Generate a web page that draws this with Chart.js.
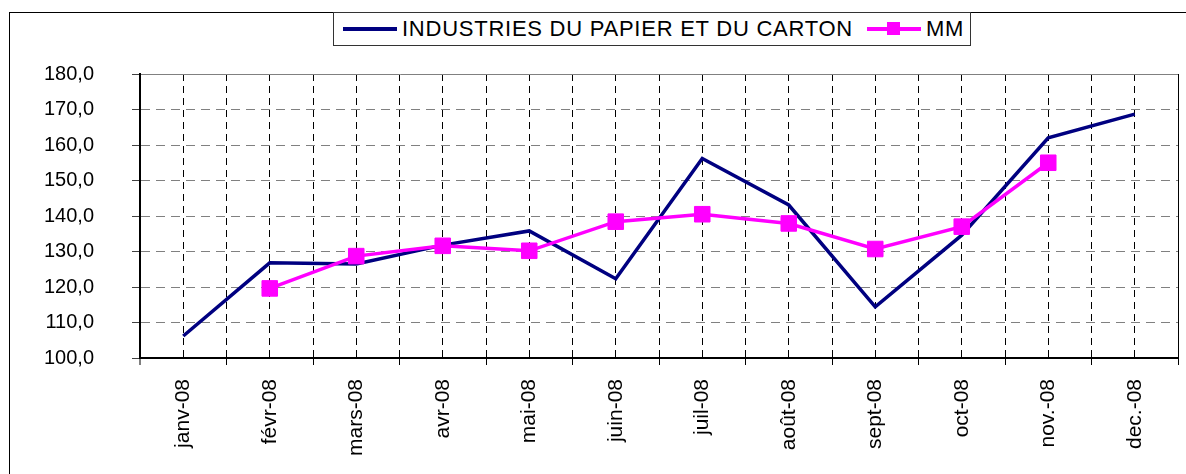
<!DOCTYPE html>
<html>
<head>
<meta charset="utf-8">
<script src="https://cdn.jsdelivr.net/npm/chart.js@4/dist/chart.umd.min.js"></script>
<style>
  html, body { margin: 0; padding: 0; background: #fff; overflow: hidden; width: 1186px; height: 474px; }
  #frame { position: absolute; left: 9px; top: 12px; width: 1300px; height: 600px; border-left: 1.5px solid #000; border-top: 1.5px solid #000; }
  #wrap { position: absolute; left: 0; top: 0; width: 1190px; height: 474px; }
  #legend { position: absolute; left: 333px; top: 12px; width: 638px; height: 34px; border: 1px solid #333; background: #fff;
            font-family: 'Liberation Sans', Arial, sans-serif; font-size: 22px; letter-spacing: 0.75px; color: #000;
            display: flex; align-items: center; box-sizing: border-box; }
  .item { display: flex; align-items: center; }
  .sample { position: relative; display: inline-block; width: 54px; height: 14px; margin-right: 5px; }
  .sample .ln { position: absolute; left: 0; right: 0; top: 5px; height: 3.5px; }
  .sample .mk { position: absolute; left: 20px; top: 0; width: 13px; height: 13px; }
</style>
</head>
<body>
<div id="frame"></div>
<div id="wrap"><canvas id="myLine" width="1190" height="474"></canvas></div>
<div id="legend"></div>
<script>
const months = ['janv-08', 'févr-08', 'mars-08', 'avr-08', 'mai-08', 'juin-08',
                'juil-08', 'août-08', 'sept-08', 'oct-08', 'nov.-08', 'dec.-08'];
const industrie = [106.2, 126.8, 126.5, 131.8, 135.8, 122.3, 156.2, 143.1, 114.4, 134.6, 162.0, 168.7];
const mm = [null, 119.6, 128.7, 131.6, 130.2, 138.4, 140.5, 137.9, 130.7, 137.0, 155.0, null];
const y_min = 100;
const y_max = 180;
const y_step = 10;

Chart.defaults.font.family = "'Liberation Sans', Arial, sans-serif";
Chart.defaults.color = '#000';

const my_line = document.getElementById('myLine');

// dashed grid lines, but solid where they sit on the plot edges
const xDash = (ctx) => (ctx.type === 'tick' && ctx.index > 0 ? [7, 5] : []);
const yDash = (ctx) => (ctx.type === 'tick' && ctx.tick && ctx.tick.value !== y_max ? [9, 6] : []);

const chart = new Chart(my_line, {
  type: 'line',
  data: {
    labels: months,
    datasets: [
      {
        label: 'INDUSTRIES DU PAPIER ET DU CARTON',
        data: industrie,
        borderColor: '#000080',
        backgroundColor: '#000080',
        borderWidth: 3.5,
        pointRadius: 0,
        tension: 0,
        order: 1
      },
      {
        label: 'MM',
        data: mm,
        borderColor: '#ff00ff',
        backgroundColor: '#ff00ff',
        borderWidth: 3.5,
        pointStyle: 'rect',
        pointRadius: 11,
        pointBorderWidth: 1,
        tension: 0,
        order: 0
      }
    ]
  },
  options: {
    responsive: false,
    animation: false,
    layout: { padding: { left: 40, top: 74, right: 0, bottom: 0 } },
    plugins: { legend: { display: false }, tooltip: { enabled: false } },
    scales: {
      x: {
        offset: true,
        grid: {
          offset: true,
          color: '#000',
          lineWidth: (ctx) => (ctx.index === 0 ? 2 : 1),
          tickLength: 7,
          tickColor: '#000',
          tickWidth: 1
        },
        border: { color: '#000', width: 2, dash: xDash },
        ticks: { font: { size: 21 }, minRotation: 90, maxRotation: 90, padding: 14, autoSkip: false },
        afterFit(scale) { scale.height = 116; }
      },
      x2: {
        type: 'category',
        position: 'bottom',
        offset: true,
        grid: { offset: false, color: '#000', lineWidth: 1, drawTicks: false },
        border: { display: false, dash: [7, 5] },
        ticks: { display: false },
        afterFit(scale) { scale.height = 0; }
      },
      y: {
        min: y_min,
        max: y_max,
        ticks: {
          stepSize: y_step,
          font: { size: 20 },
          padding: 38,
          callback: (v) => v.toFixed(1).replace('.', ',')
        },
        grid: { color: '#808080', lineWidth: 1, tickLength: 8, tickColor: '#404040' },
        border: { color: '#000', width: 2, dash: yDash },
        afterFit(scale) { scale.width = 100; }
      }
    }
  }
});

// legend box built from the dataset labels
const legend = document.getElementById('legend');
chart.data.datasets.forEach((ds, i) => {
  const item = document.createElement('div');
  item.className = 'item';
  item.style.marginLeft = i === 0 ? '9px' : '14px';
  let sample = '<span class="sample"><span class="ln" style="background:' + ds.borderColor + '"></span>';
  if (ds.pointRadius) sample += '<span class="mk" style="background:' + ds.backgroundColor + '"></span>';
  sample += '</span>';
  item.innerHTML = sample + '<span>' + ds.label + '</span>';
  legend.appendChild(item);
});
</script>
</body>
</html>
